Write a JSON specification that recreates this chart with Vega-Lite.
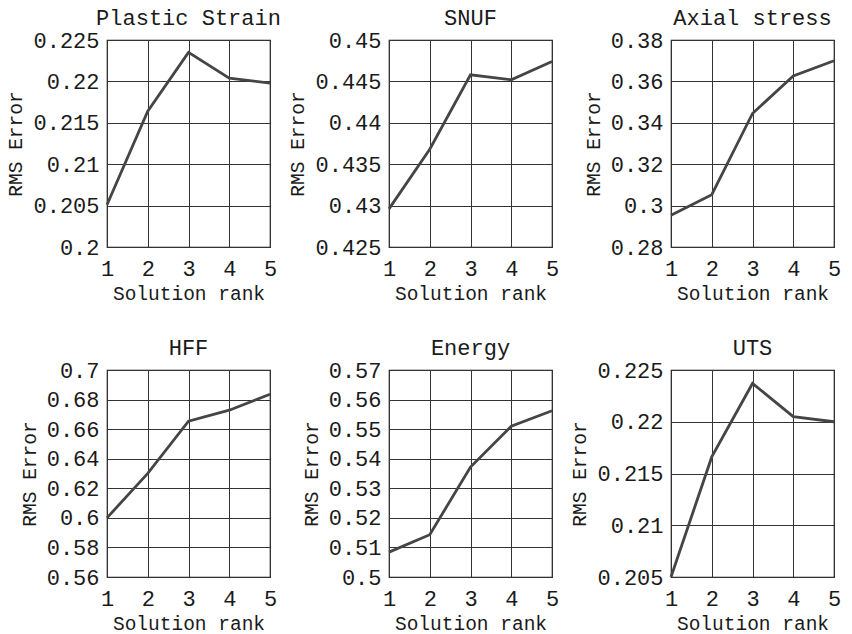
{
  "$schema": "https://vega.github.io/schema/vega-lite/v6.json",
  "background": "white",
  "padding": {"left": 5, "top": 6, "right": 5, "bottom": 2},
  "bounds": "flush",
  "columns": 3,
  "spacing": {"row": 123, "column": 119},
  "data": {
    "values": [
      {"panel": "Plastic Strain", "rank": 1, "rmse": 0.2051},
      {"panel": "Plastic Strain", "rank": 2, "rmse": 0.2164},
      {"panel": "Plastic Strain", "rank": 3, "rmse": 0.2235},
      {"panel": "Plastic Strain", "rank": 4, "rmse": 0.2204},
      {"panel": "Plastic Strain", "rank": 5, "rmse": 0.2198},
      {"panel": "SNUF", "rank": 1, "rmse": 0.4296},
      {"panel": "SNUF", "rank": 2, "rmse": 0.4368},
      {"panel": "SNUF", "rank": 3, "rmse": 0.4458},
      {"panel": "SNUF", "rank": 4, "rmse": 0.4452},
      {"panel": "SNUF", "rank": 5, "rmse": 0.4474},
      {"panel": "Axial stress", "rank": 1, "rmse": 0.2953},
      {"panel": "Axial stress", "rank": 2, "rmse": 0.3053},
      {"panel": "Axial stress", "rank": 3, "rmse": 0.3445},
      {"panel": "Axial stress", "rank": 4, "rmse": 0.3626},
      {"panel": "Axial stress", "rank": 5, "rmse": 0.3700},
      {"panel": "HFF", "rank": 1, "rmse": 0.6000},
      {"panel": "HFF", "rank": 2, "rmse": 0.6301},
      {"panel": "HFF", "rank": 3, "rmse": 0.6654},
      {"panel": "HFF", "rank": 4, "rmse": 0.6728},
      {"panel": "HFF", "rank": 5, "rmse": 0.6836},
      {"panel": "Energy", "rank": 1, "rmse": 0.5084},
      {"panel": "Energy", "rank": 2, "rmse": 0.5143},
      {"panel": "Energy", "rank": 3, "rmse": 0.5372},
      {"panel": "Energy", "rank": 4, "rmse": 0.5510},
      {"panel": "Energy", "rank": 5, "rmse": 0.5562},
      {"panel": "UTS", "rank": 1, "rmse": 0.2050},
      {"panel": "UTS", "rank": 2, "rmse": 0.2166},
      {"panel": "UTS", "rank": 3, "rmse": 0.2237},
      {"panel": "UTS", "rank": 4, "rmse": 0.2205},
      {"panel": "UTS", "rank": 5, "rmse": 0.2200}
    ]
  },
  "concat": [
    {
      "title": "Plastic Strain",
      "width": 163, "height": 207,
      "transform": [{"filter": "datum.panel === 'Plastic Strain'"}],
      "mark": {"type": "line", "color": "#454545", "strokeWidth": 2.8},
      "encoding": {
        "x": {"field": "rank", "type": "quantitative", "scale": {"domain": [1, 5], "nice": false, "zero": false}, "axis": {"values": [1, 2, 3, 4, 5], "title": "Solution rank"}},
        "y": {"field": "rmse", "type": "quantitative", "scale": {"domain": [0.2, 0.225], "nice": false, "zero": false}, "axis": {"values": [0.2, 0.205, 0.21, 0.215, 0.22, 0.225], "title": "RMS Error"}}
      }
    },
    {
      "title": "SNUF",
      "width": 163, "height": 207,
      "transform": [{"filter": "datum.panel === 'SNUF'"}],
      "mark": {"type": "line", "color": "#454545", "strokeWidth": 2.8},
      "encoding": {
        "x": {"field": "rank", "type": "quantitative", "scale": {"domain": [1, 5], "nice": false, "zero": false}, "axis": {"values": [1, 2, 3, 4, 5], "title": "Solution rank"}},
        "y": {"field": "rmse", "type": "quantitative", "scale": {"domain": [0.425, 0.45], "nice": false, "zero": false}, "axis": {"values": [0.425, 0.43, 0.435, 0.44, 0.445, 0.45], "title": "RMS Error"}}
      }
    },
    {
      "title": "Axial stress",
      "width": 163, "height": 207,
      "transform": [{"filter": "datum.panel === 'Axial stress'"}],
      "mark": {"type": "line", "color": "#454545", "strokeWidth": 2.8},
      "encoding": {
        "x": {"field": "rank", "type": "quantitative", "scale": {"domain": [1, 5], "nice": false, "zero": false}, "axis": {"values": [1, 2, 3, 4, 5], "title": "Solution rank"}},
        "y": {"field": "rmse", "type": "quantitative", "scale": {"domain": [0.28, 0.38], "nice": false, "zero": false}, "axis": {"values": [0.28, 0.3, 0.32, 0.34, 0.36, 0.38], "title": "RMS Error"}}
      }
    },
    {
      "title": "HFF",
      "width": 163, "height": 207,
      "transform": [{"filter": "datum.panel === 'HFF'"}],
      "mark": {"type": "line", "color": "#454545", "strokeWidth": 2.8},
      "encoding": {
        "x": {"field": "rank", "type": "quantitative", "scale": {"domain": [1, 5], "nice": false, "zero": false}, "axis": {"values": [1, 2, 3, 4, 5], "title": "Solution rank"}},
        "y": {"field": "rmse", "type": "quantitative", "scale": {"domain": [0.56, 0.7], "nice": false, "zero": false}, "axis": {"values": [0.56, 0.58, 0.6, 0.62, 0.64, 0.66, 0.68, 0.7], "title": "RMS Error"}}
      }
    },
    {
      "title": "Energy",
      "width": 163, "height": 207,
      "transform": [{"filter": "datum.panel === 'Energy'"}],
      "mark": {"type": "line", "color": "#454545", "strokeWidth": 2.8},
      "encoding": {
        "x": {"field": "rank", "type": "quantitative", "scale": {"domain": [1, 5], "nice": false, "zero": false}, "axis": {"values": [1, 2, 3, 4, 5], "title": "Solution rank"}},
        "y": {"field": "rmse", "type": "quantitative", "scale": {"domain": [0.5, 0.57], "nice": false, "zero": false}, "axis": {"values": [0.5, 0.51, 0.52, 0.53, 0.54, 0.55, 0.56, 0.57], "title": "RMS Error"}}
      }
    },
    {
      "title": "UTS",
      "width": 163, "height": 207,
      "transform": [{"filter": "datum.panel === 'UTS'"}],
      "mark": {"type": "line", "color": "#454545", "strokeWidth": 2.8},
      "encoding": {
        "x": {"field": "rank", "type": "quantitative", "scale": {"domain": [1, 5], "nice": false, "zero": false}, "axis": {"values": [1, 2, 3, 4, 5], "title": "Solution rank"}},
        "y": {"field": "rmse", "type": "quantitative", "scale": {"domain": [0.205, 0.225], "nice": false, "zero": false}, "axis": {"values": [0.205, 0.21, 0.215, 0.22, 0.225], "title": "RMS Error"}}
      }
    }
  ],
  "config": {
    "font": "Liberation Mono",
    "view": {"stroke": "#111111", "strokeWidth": 1.2},
    "title": {"font": "Liberation Mono", "fontSize": 22, "fontWeight": "normal", "color": "#1a1a1a", "offset": -1},
    "axis": {
      "labelFont": "Liberation Mono", "labelFontSize": 22, "labelColor": "#1a1a1a",
      "titleFont": "Liberation Mono", "titleFontSize": 19.5, "titleFontWeight": "normal", "titleColor": "#1a1a1a",
      "grid": true, "gridColor": "#333333", "gridWidth": 1, "gridOpacity": 1,
      "ticks": false, "tickSize": 0, "domain": false,
      "labelOverlap": false, "labelFlush": false, "format": "~g"
    },
    "axisX": {"labelPadding": 11, "titlePadding": 5},
    "axisY": {"labelPadding": 8, "titlePadding": 7}
  }
}
